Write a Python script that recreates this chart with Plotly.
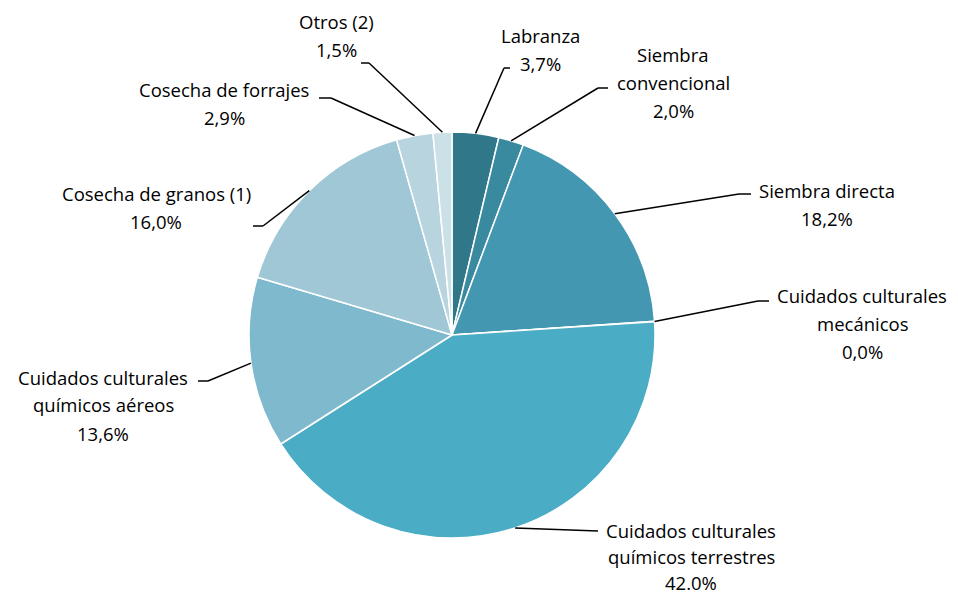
import math
import plotly.graph_objects as go

# ---- data ----
labels = ["Labranza", "Siembra convencional", "Siembra directa",
          "Cuidados culturales mecánicos", "Cuidados culturales químicos terrestres",
          "Cuidados culturales químicos aéreos", "Cosecha de granos (1)",
          "Cosecha de forrajes", "Otros (2)"]
values = [3.7, 2.0, 18.2, 0.04, 42.0, 13.6, 16.0, 2.9, 1.5]
pct_text = ["3,7%", "2,0%", "18,2%", "0,0%", "42.0%", "13,6%", "16,0%", "2,9%", "1,5%"]
label_lines = [["Labranza"], ["Siembra", "convencional"], ["Siembra directa"],
               ["Cuidados culturales", "mecánicos"], ["Cuidados culturales", "químicos terrestres"],
               ["Cuidados culturales", "químicos aéreos"], ["Cosecha de granos (1)"],
               ["Cosecha de forrajes"], ["Otros (2)"]]
colors = ["#31778A", "#3A8A9F", "#4397B0", "#4AA6BF", "#4BACC6",
          "#7EB9CE", "#9FC7D6", "#B8D4DF", "#CCE0E8"]

# ---- layout / style (pixels) ----
W, H = 958, 594
CX, CY, R = 452, 335, 203
# text block: center x, first line y, line step; leader: elbow point, tick end point
label_style = [
    dict(tx=540, ty=35, step=28, elbow=(504, 68), tick=(510, 68)),
    dict(tx=673, ty=55, step=28, elbow=(598, 88), tick=(608, 88)),
    dict(tx=827, ty=190, step=28, elbow=(739, 194), tick=(751, 194)),
    dict(tx=862, ty=295, step=28, elbow=(758, 301), tick=(769, 301)),
    dict(tx=691, ty=530, step=26, elbow=(598, 531), tick=(598, 531)),
    dict(tx=103, ty=377, step=28, elbow=(208, 381), tick=(198, 381)),
    dict(tx=156, ty=194, step=28, elbow=(263, 226), tick=(253, 226)),
    dict(tx=224, ty=90, step=28, elbow=(331, 98), tick=(319, 98)),
    dict(tx=336, ty=22, step=28, elbow=(369, 63), tick=(361, 63)),
]
FONT = dict(family="Open Sans, Calibri, Carlito, sans-serif", size=18.5, color="#000000")

def px(x):
    return x / W

def py(y):
    return 1 - y / H

fig = go.Figure(go.Pie(
    labels=labels, values=values, sort=False, direction="clockwise", rotation=0,
    marker=dict(colors=colors, line=dict(color="white", width=1.5)),
    textinfo="none", hoverinfo="label+percent", showlegend=False,
    domain=dict(x=[px(CX - R), px(CX + R)], y=[py(CY + R), py(CY - R)]),
))

total = sum(values)
cum = 0.0
shapes = []
annotations = []
for i, v in enumerate(values):
    mid = (cum + v / 2) / total
    cum += v
    th = 2 * math.pi * mid
    ex, ey = CX + R * math.sin(th), CY - R * math.cos(th)
    st = label_style[i]
    (bx, by), (kx, ky) = st["elbow"], st["tick"]
    shapes.append(dict(type="line", xref="paper", yref="paper",
                       x0=px(ex), y0=py(ey), x1=px(bx), y1=py(by),
                       line=dict(color="black", width=1.5)))
    if (bx, by) != (kx, ky):
        shapes.append(dict(type="line", xref="paper", yref="paper",
                           x0=px(bx), y0=py(by), x1=px(kx), y1=py(ky),
                           line=dict(color="black", width=1.5)))
    lines = label_lines[i] + [pct_text[i]]
    for j, t in enumerate(lines):
        annotations.append(dict(text=t, x=px(st["tx"]), y=py(st["ty"] + j * st["step"]),
                                xref="paper", yref="paper", showarrow=False,
                                xanchor="center", yanchor="middle", font=FONT,
                                borderpad=0))

fig.update_layout(
    width=W, height=H, margin=dict(l=0, r=0, t=0, b=0),
    paper_bgcolor="white", plot_bgcolor="white",
    shapes=shapes, annotations=annotations,
)
fig.write_html("out.html", config={"displayModeBar": False},
               post_script="document.body.style.margin='0';")
